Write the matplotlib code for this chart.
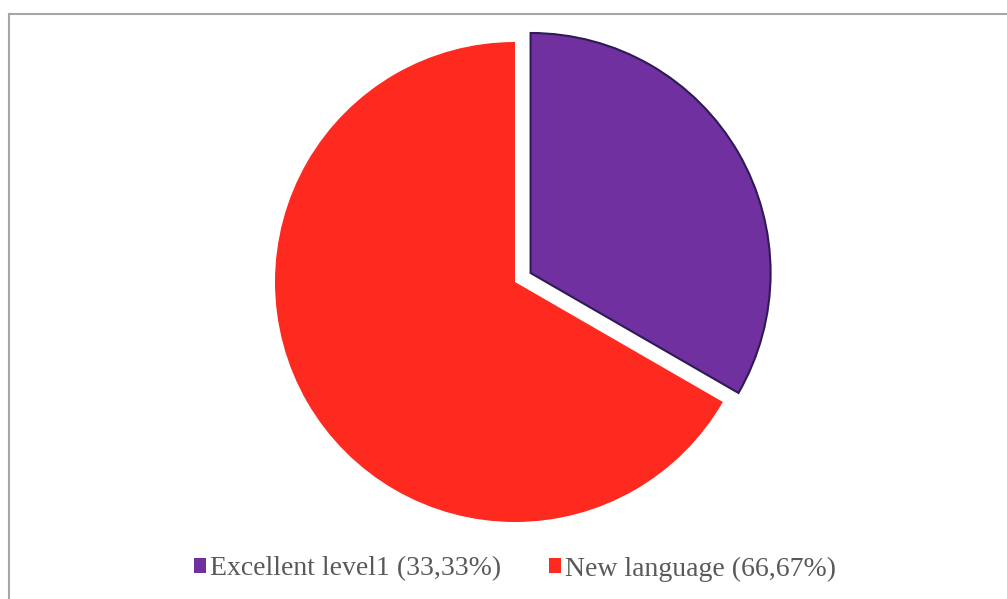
import matplotlib.pyplot as plt
from matplotlib.lines import Line2D

labels = ["Excellent level1 (33,33%)", "New language (66,67%)"]
shares = [33.33, 66.67]
colors = ["#7030A0", "#FF2A1F"]
edges = ["#2E1A55", "none"]
explode = [0.075, 0]

fig = plt.figure(figsize=(10.07, 5.99), dpi=100)

# pie axes: centre ~ (515, 282) px, radius ~240 px
half = 270
ax = fig.add_axes([(515 - half) / 1007, (599 - 282 - half) / 599, 2 * half / 1007, 2 * half / 599])
wedges, _ = ax.pie(shares, colors=colors, explode=explode, startangle=90,
                   counterclock=False, radius=1)
for w, ec in zip(wedges, edges):
    w.set_edgecolor(ec)
    w.set_linewidth(1.5 if ec != "none" else 0)
lim = half / 240
ax.set_xlim(-lim, lim)
ax.set_ylim(-lim, lim)
ax.set_aspect("auto")

# grey frame around the chart (top and left edges visible)
fig.add_artist(Line2D([8.5 / 1007, 8.5 / 1007], [0, 1 - 13.5 / 599], color="#A6A6A6", lw=1.5))
fig.add_artist(Line2D([8.5 / 1007, 1], [1 - 13.5 / 599, 1 - 13.5 / 599], color="#A6A6A6", lw=1.5))

leg = fig.legend(wedges, labels, loc="center", bbox_to_anchor=(515 / 1007, 1 - 569 / 599),
                 ncol=2, frameon=False, handlelength=0.45, handleheight=0.45,
                 handletextpad=0.15, columnspacing=1.7,
                 prop={"family": "Liberation Serif", "size": 20})
for t in leg.get_texts():
    t.set_color("#595959")
for h in leg.legend_handles:
    h.set_linewidth(0)

fig.savefig("out.png", dpi=100, facecolor="white")
